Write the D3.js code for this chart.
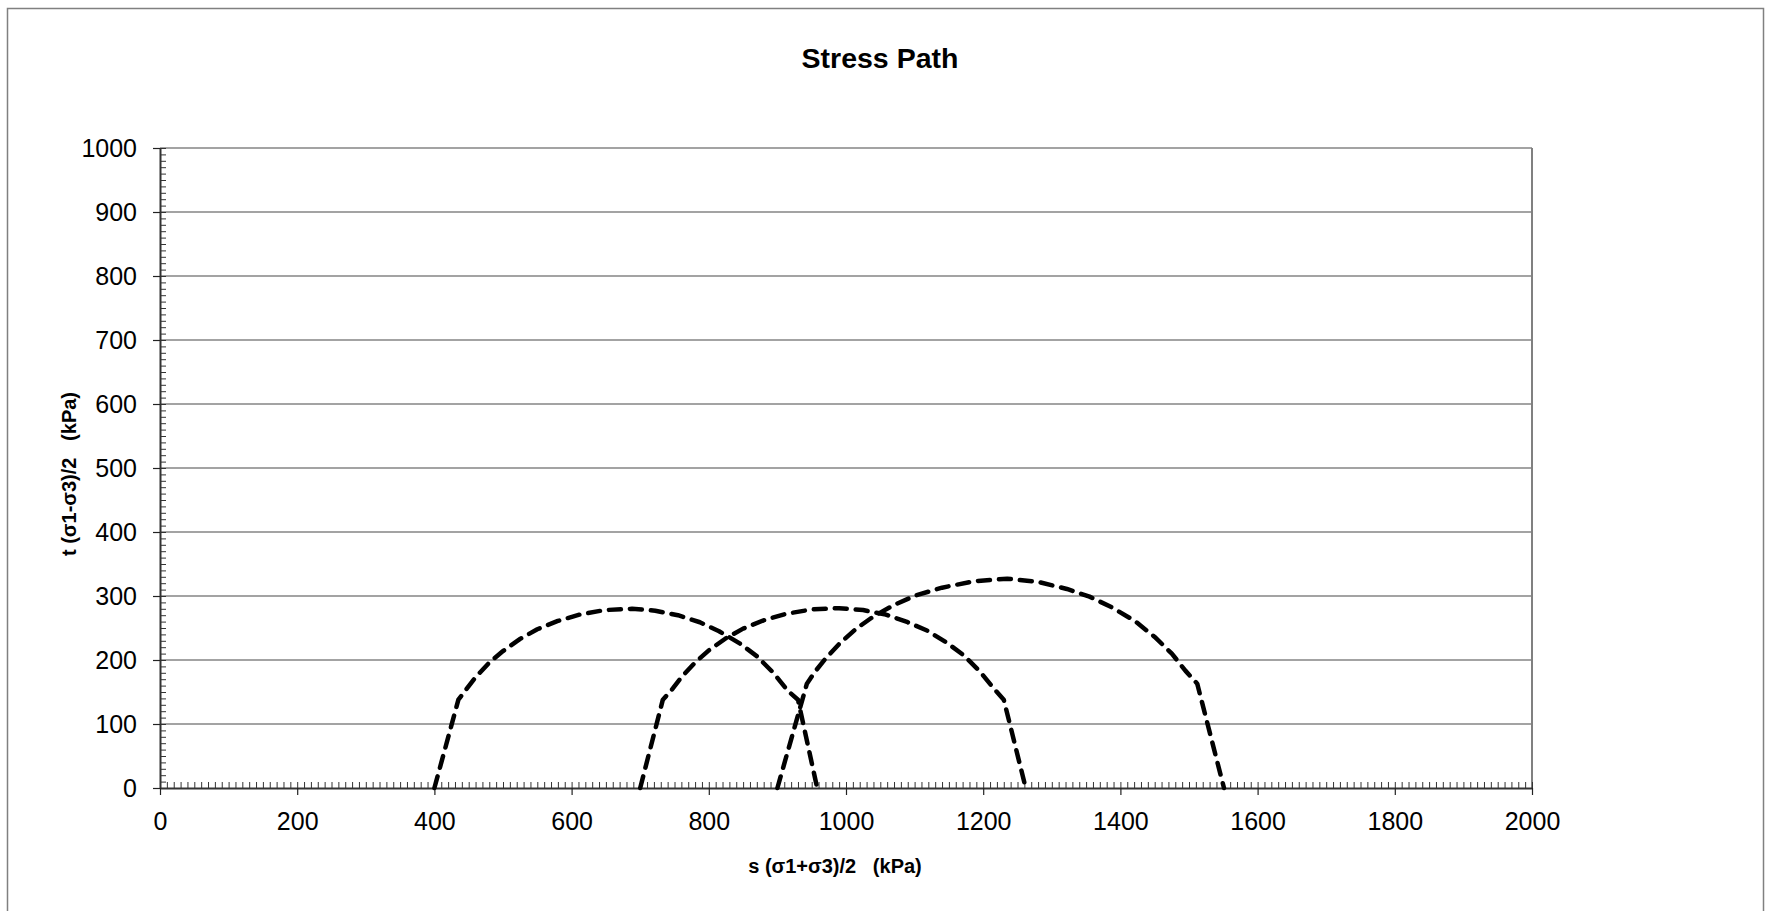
<!DOCTYPE html>
<html lang="en">
<head>
<meta charset="UTF-8">
<title>Stress Path</title>
<script src="https://cdn.jsdelivr.net/npm/d3@7"></script>
<style>
    body { margin: 0; background: #fff; }
    svg { display: block; font-family: "Liberation Sans", Arial, sans-serif; }
    text { white-space: pre; }
</style>
</head>
<body>
<div id="chart"></div>
<script>
    // chart texts
    const title = "Stress Path";
    const xLabel = "s (σ1+σ3)/2   (kPa)";
    const yLabel = "t (σ1-σ3)/2   (kPa)";

    // tick labels
    const xTicks = [0, 200, 400, 600, 800, 1000, 1200, 1400, 1600, 1800, 2000];
    const yTicks = [0, 100, 200, 300, 400, 500, 600, 700, 800, 900, 1000];

    // stress paths (s, t in kPa)
    const s1 = [400, 435, 445, 460, 480, 500, 525, 550, 580, 612, 648, 688, 722, 755, 787, 815, 845, 870, 895, 915, 930, 958];
    const t1 = [0, 138, 152, 173, 196, 214, 233, 248, 261, 271, 278, 280, 277, 270, 259, 245, 226, 206, 179, 152, 138, 0];

    const s2 = [700, 733, 745, 760, 780, 800, 825, 850, 880, 912, 950, 990, 1025, 1058, 1090, 1118, 1147, 1172, 1196, 1215, 1230, 1262];
    const t2 = [0, 138, 152, 173, 196, 215, 234, 249, 262, 272, 279, 281, 278, 271, 259, 246, 227, 207, 181, 156, 138, 0];

    const s3 = [900, 943, 955, 970, 990, 1015, 1040, 1070, 1102, 1140, 1186, 1235, 1280, 1322, 1355, 1388, 1421, 1450, 1475, 1495, 1512, 1551];
    const t3 = [0, 163, 182, 202, 225, 249, 268, 286, 301, 313, 323, 327, 322, 311, 299, 282, 261, 236, 210, 183, 163, 0];

    const series = [d3.zip(s1, t1), d3.zip(s2, t2), d3.zip(s3, t3)];

    const width = 1769;
    const height = 911;
    const plot = {left: 160, right: 1532, top: 148, bottom: 788};

    const svg = d3.select("#chart").append("svg")
        .attr("width", width)
        .attr("height", height);

    // outer chart frame
    svg.append("rect")
        .attr("x", 7.5).attr("y", 8.5)
        .attr("width", 1756).attr("height", 1000)
        .attr("fill", "none")
        .attr("stroke", "#808080")
        .attr("stroke-width", 1.5);

    const x = d3.scaleLinear().domain([0, 2000]).range([plot.left, plot.right]);
    const y = d3.scaleLinear().domain([0, 1000]).range([plot.bottom, plot.top]);

    // gridlines
    svg.append("g")
        .selectAll("line")
        .data(yTicks.filter(d => d > 0))
        .join("line")
        .attr("x1", plot.left).attr("x2", plot.right)
        .attr("y1", d => y(d)).attr("y2", d => y(d))
        .attr("stroke", "#848484")
        .attr("stroke-width", 1.5);

    // right border of plot area
    svg.append("line")
        .attr("x1", plot.right).attr("x2", plot.right)
        .attr("y1", plot.top).attr("y2", plot.bottom)
        .attr("stroke", "#808080")
        .attr("stroke-width", 2);

    // minor ticks
    svg.append("g")
        .attr("transform", `translate(${plot.left},0)`)
        .call(d3.axisLeft(y).tickValues(d3.range(0, 1001, 10)).tickSize(-6).tickFormat(""))
        .call(g => g.select(".domain").remove())
        .selectAll("line").attr("stroke", "#333");

    svg.append("g")
        .attr("transform", `translate(0,${plot.bottom})`)
        .call(d3.axisBottom(x).tickValues(d3.range(0, 2001, 10)).tickSize(-6).tickFormat(""))
        .call(g => g.select(".domain").remove())
        .selectAll("line").attr("stroke", "#333");

    // major axes
    const yAxis = svg.append("g")
        .attr("transform", `translate(${plot.left},0)`)
        .call(d3.axisLeft(y).tickValues(yTicks).tickFormat(d3.format("d"))
            .tickSize(7).tickPadding(16).tickSizeOuter(0));

    const xAxis = svg.append("g")
        .attr("transform", `translate(0,${plot.bottom})`)
        .call(d3.axisBottom(x).tickValues(xTicks).tickFormat(d3.format("d"))
            .tickSize(7).tickPadding(17).tickSizeOuter(0));

    [xAxis, yAxis].forEach(g => {
        g.select(".domain").attr("stroke", "#333").attr("stroke-width", 2);
        g.selectAll(".tick line").attr("stroke", "#222").attr("stroke-width", 1.2);
        g.selectAll("text")
            .attr("fill", "#000")
            .style("font-family", "'Liberation Sans', Arial, sans-serif")
            .style("font-size", "25px");
    });

    // stress path curves
    const line = d3.line()
        .x(d => x(d[0]))
        .y(d => y(d[1]));

    svg.append("g")
        .selectAll("path")
        .data(series)
        .join("path")
        .attr("d", line)
        .attr("fill", "none")
        .attr("stroke", "#000")
        .attr("stroke-width", 4.5)
        .attr("stroke-linecap", "round")
        .attr("stroke-linejoin", "round")
        .attr("stroke-dasharray", "12,9");

    // title and axis labels
    svg.append("text")
        .attr("x", 880).attr("y", 68)
        .attr("text-anchor", "middle")
        .style("font-size", "28.5px")
        .style("font-weight", "bold")
        .text(title);

    svg.append("text")
        .attr("x", 835).attr("y", 873)
        .attr("text-anchor", "middle")
        .style("font-size", "20px")
        .style("font-weight", "bold")
        .text(xLabel);

    svg.append("text")
        .attr("transform", "translate(76,474) rotate(-90)")
        .attr("text-anchor", "middle")
        .style("font-size", "20px")
        .style("font-weight", "bold")
        .text(yLabel);
</script>
</body>
</html>
